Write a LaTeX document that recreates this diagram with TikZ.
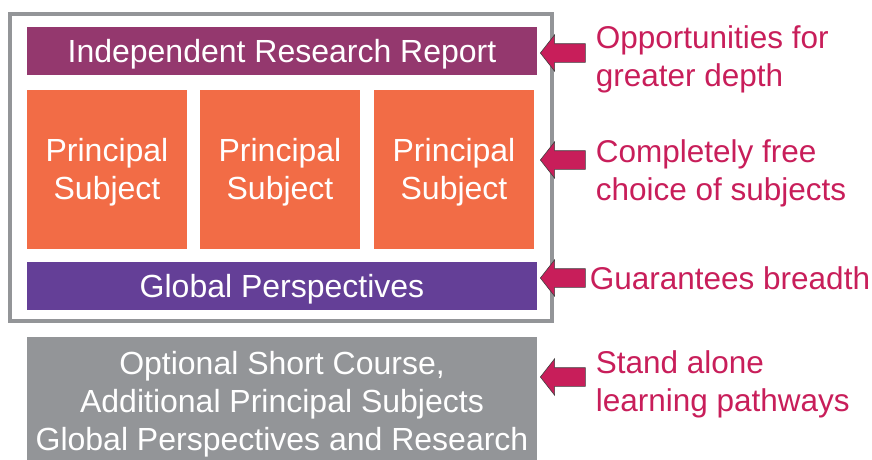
\documentclass[tikz,border=0pt]{standalone}
\usepackage{fontspec}
\setmainfont{Liberation Sans}
\usetikzlibrary{positioning,shapes.arrows}

\definecolor{irrpurple}{RGB}{148,56,110}
\definecolor{psorange}{RGB}{242,108,70}
\definecolor{gpviolet}{RGB}{100,63,151}
\definecolor{boxgray}{RGB}{147,149,152}
\definecolor{notecrimson}{RGB}{200,30,90}

\tikzset{
  block/.style={rectangle,fill=#1,text=white,inner sep=0pt,align=center,
    text depth=0pt,font=\fontsize{32}{38}\selectfont},
  widebox/.style={block=#1,minimum width=510pt,minimum height=48pt},
  subjbox/.style={block=psorange,minimum width=160pt,minimum height=159pt},
  pointer/.style={single arrow,shape border rotate=180,fill=notecrimson,
    draw=black!75,line width=0.6pt,inner xsep=0pt,inner ysep=9pt,
    minimum height=45pt,single arrow head extend=9pt,
    single arrow tip angle=104,anchor=tip},
  note/.style={anchor=west,inner sep=0pt,text=notecrimson,align=left,
    font=\fontsize{31.5}{38}\selectfont}
}

\begin{document}
\begin{tikzpicture}[x=1pt,y=-1pt]
  \useasboundingbox (0,0) rectangle (872,459);
  % outer frame round the full diploma
  \draw[boxgray,line width=4pt] (10,14) rectangle (552,321);

  \node[widebox=irrpurple] (irr) at (282,51) {Independent Research Report};
  \node[subjbox] (ps1) at (107,169) {Principal\\Subject};
  \node[subjbox] (ps2) at (280,169) {Principal\\Subject};
  \node[subjbox] (ps3) at (454,169) {Principal\\Subject};
  \node[widebox=gpviolet] (gp) at (282,286) {Global Perspectives};
  \node[block=boxgray,minimum width=510pt,minimum height=128pt] (opt) at (282,401)
    {Optional Short Course,\\Additional Principal Subjects\\Global Perspectives and Research};

  % arrows and notes on the right
  \node[pointer] (a1) at (540,53) {};
  \node[pointer] (a2) at (540,160) {};
  \node[pointer] (a3) at (540,278) {};
  \node[pointer] (a4) at (540,377) {};

  \node[note,right=10pt of a1,yshift=-6pt] (n1) {Opportunities for\\greater depth};
  \node[note,right=10pt of a2,yshift=-13pt] (n2) {Completely free\\choice of subjects};
  \node[note,right=4pt of a3] (n3) {Guarantees breadth};
  \node[note,right=10pt of a4,yshift=-7pt] (n4) {Stand alone\\learning pathways};
\end{tikzpicture}
\end{document}
